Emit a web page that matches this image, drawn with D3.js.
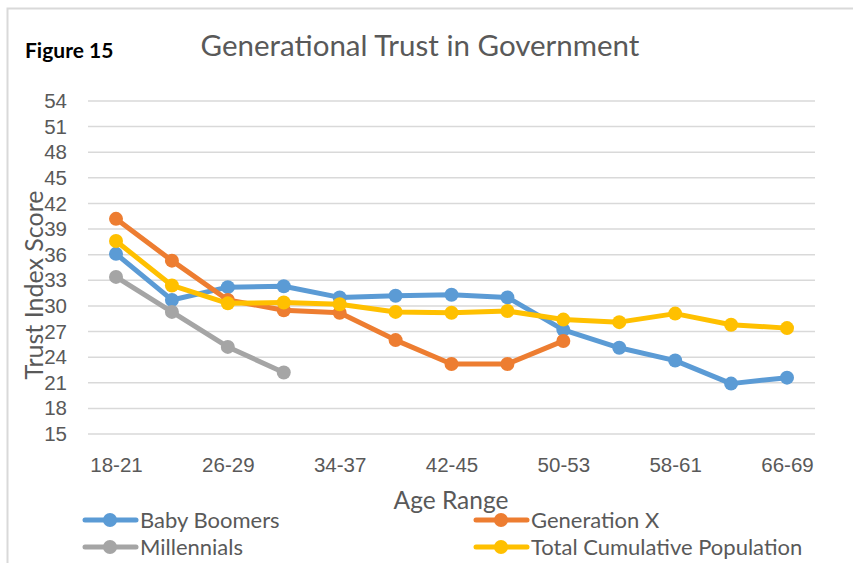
<!DOCTYPE html>
<html lang="en">
<head>
<meta charset="UTF-8">
<title>Generational Trust in Government</title>
<script src="https://d3js.org/d3.v7.min.js"></script>
<style>
  body { margin: 0; background: #fff; }
  svg { display: block; font-family: Lato, "Open Sans", sans-serif; }
  .tick text { fill: #595959; font-size: 20.5px; }
</style>
</head>
<body>
<svg width="853" height="563"></svg>
<script>
const ageRanges = ["18-21", "22-25", "26-29", "30-33", "34-37", "38-41", "42-45",
                   "46-49", "50-53", "54-57", "58-61", "62-65", "66-69"];
const yTicks = [15, 18, 21, 24, 27, 30, 33, 36, 39, 42, 45, 48, 51, 54];

const babyBoomers = [36.1, 30.7, 32.2, 32.3, 31.0, 31.2, 31.3, 31.0, 27.2, 25.1, 23.6, 20.9, 21.6];
const generationX = [40.2, 35.3, 30.7, 29.5, 29.2, 26.0, 23.2, 23.2, 25.9];
const millennials = [33.4, 29.3, 25.2, 22.2];
const totalPop    = [37.6, 32.4, 30.3, 30.4, 30.2, 29.3, 29.2, 29.4, 28.4, 28.1, 29.1, 27.8, 27.4];

const series = [
  { name: "Baby Boomers", values: babyBoomers, color: "#5B9BD5" },
  { name: "Generation X", values: generationX, color: "#ED7D31" },
  { name: "Millennials", values: millennials, color: "#A5A5A5" },
  { name: "Total Cumulative Population", values: totalPop, color: "#FFC000" }
];

const svg = d3.select("svg");

// chart frame (left and top border)
svg.append("path")
  .attr("d", "M7.5,563 V8.5 H853")
  .attr("fill", "none")
  .attr("stroke", "#d9d9d9")
  .attr("stroke-width", 2);

const x = d3.scalePoint().domain(ageRanges).range([116, 787]).padding(0);
const y = d3.scaleLinear().domain([15, 54]).range([434, 101]);

// gridlines
svg.append("g")
  .selectAll("line")
  .data(yTicks)
  .join("line")
  .attr("x1", 88).attr("x2", 815)
  .attr("y1", d => y(d)).attr("y2", d => y(d))
  .attr("stroke", "#d9d9d9")
  .attr("stroke-width", 1.5);

// y axis
const yAxis = svg.append("g")
  .attr("transform", "translate(88,0)")
  .call(d3.axisLeft(y).tickValues(yTicks).tickSize(0).tickPadding(21));
yAxis.select(".domain").remove();

// x axis, every other label
const xAxis = svg.append("g")
  .attr("transform", "translate(0,434)")
  .call(d3.axisBottom(x).tickSize(0).tickPadding(23)
    .tickFormat((d, i) => i % 2 === 0 ? d : ""));
xAxis.select(".domain").remove();

const line = d3.line()
  .x((d, i) => x(ageRanges[i]))
  .y(d => y(d));

const g = svg.append("g");
series.forEach(s => {
  g.append("path")
    .datum(s.values)
    .attr("d", line)
    .attr("fill", "none")
    .attr("stroke", s.color)
    .attr("stroke-width", 5)
    .attr("stroke-linejoin", "round");
  g.selectAll(null)
    .data(s.values)
    .join("circle")
    .attr("cx", (d, i) => x(ageRanges[i]))
    .attr("cy", d => y(d))
    .attr("r", 7)
    .attr("fill", s.color);
});

// titles
svg.append("text")
  .attr("x", 25).attr("y", 58)
  .attr("font-size", 21).attr("font-weight", "bold")
  .attr("fill", "#000")
  .text("Figure 15");

svg.append("text")
  .attr("x", 420).attr("y", 56)
  .attr("text-anchor", "middle")
  .attr("font-size", 29.5).attr("fill", "#595959")
  .text("Generational Trust in Government");

svg.append("text")
  .attr("transform", "translate(43,285) rotate(-90)")
  .attr("text-anchor", "middle")
  .attr("font-size", 25).attr("fill", "#595959")
  .text("Trust Index  Score");

svg.append("text")
  .attr("x", 451).attr("y", 509)
  .attr("text-anchor", "middle")
  .attr("font-size", 24.5).attr("fill", "#595959")
  .text("Age Range");

// legend
const legendPos = [[83, 520], [474, 520], [83, 547], [474, 547]];
const legend = svg.append("g")
  .selectAll("g")
  .data(series)
  .join("g")
  .attr("transform", (d, i) => `translate(${legendPos[i][0]},${legendPos[i][1]})`);
legend.append("line")
  .attr("x1", 2).attr("x2", 53)
  .attr("stroke", d => d.color)
  .attr("stroke-width", 5)
  .attr("stroke-linecap", "round");
legend.append("circle")
  .attr("cx", 27).attr("r", 7)
  .attr("fill", d => d.color);
legend.append("text")
  .attr("x", 57).attr("dy", "0.35em")
  .attr("font-size", 22).attr("fill", "#595959")
  .text(d => d.name);
</script>
</body>
</html>
